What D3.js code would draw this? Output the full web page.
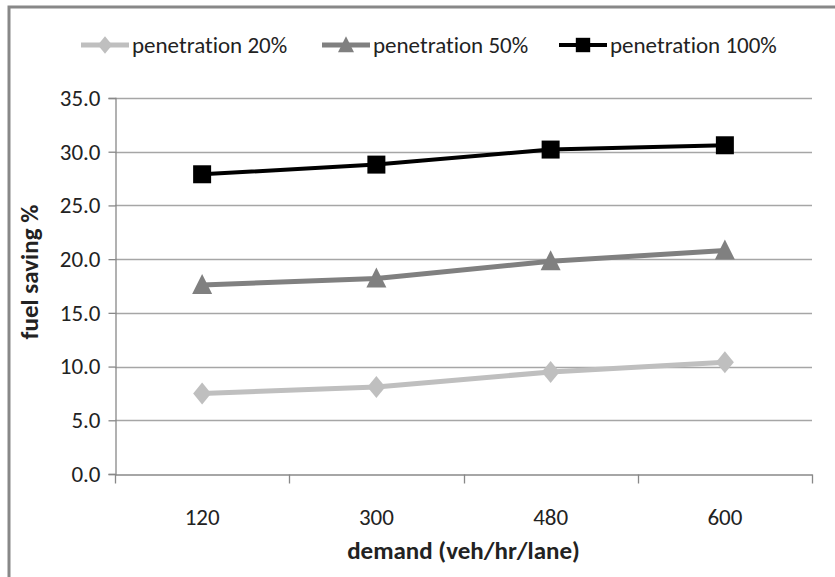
<!DOCTYPE html>
<html>
<head>
<meta charset="utf-8">
<script src="https://cdn.jsdelivr.net/npm/d3@7"></script>
<style>
  body { margin: 0; background: #fff; }
  text { font-family: Carlito, Lato, sans-serif; font-variant-ligatures: none; }
</style>
</head>
<body>
<div id="chart"></div>
<script>
const demand = ["120", "300", "480", "600"];
const seriesNames = ["penetration 20%", "penetration 50%", "penetration 100%"];
const pen20 = [7.5, 8.1, 9.5, 10.4];
const pen50 = [17.6, 18.2, 19.8, 20.8];
const pen100 = [27.9, 28.8, 30.2, 30.6];
const yTicks = [0, 5, 10, 15, 20, 25, 30, 35];

const series = [
  { name: seriesNames[0], values: pen20, color: "#bfbfbf", width: 5, shape: "diamond" },
  { name: seriesNames[1], values: pen50, color: "#808080", width: 5, shape: "triangle" },
  { name: seriesNames[2], values: pen100, color: "#000000", width: 4, shape: "square" }
];

const svg = d3.select("#chart").append("svg").attr("width", 835).attr("height", 577);
svg.append("rect").attr("width", 835).attr("height", 577).attr("fill", "#fff");
// outer frame (only top and left visible)
svg.append("path").attr("d", "M9,577V7H835").attr("fill", "none")
  .attr("stroke", "#888").attr("stroke-width", 3);

const margins = { left: 115, right: 23, top: 98, bottom: 103 };
const x = d3.scaleBand().domain(demand).range([margins.left, 835 - margins.right]);
const y = d3.scaleLinear().domain([0, 35]).range([577 - margins.bottom, margins.top]);

function markerPath(shape) {
  if (shape == "diamond") return "M0,-11L9,0L0,11L-9,0Z";
  if (shape == "triangle") return "M0,-11L10,9L-10,9Z";
  return "M-9,-9H9V9H-9Z";
}

// gridlines
svg.append("g").selectAll("line").data(yTicks.slice(1)).join("line")
  .attr("x1", margins.left).attr("x2", 835 - margins.right)
  .attr("y1", d => Math.round(y(d)) + 0.5).attr("y2", d => Math.round(y(d)) + 0.5)
  .attr("stroke", "#a6a6a6").attr("stroke-width", 1.3);

// y axis
const yAxis = svg.append("g").attr("transform", `translate(${margins.left + 0.5},0)`)
  .call(d3.axisLeft(y).tickValues(yTicks).tickFormat(d3.format(".1f")).tickSize(7).tickPadding(8));
yAxis.select(".domain").attr("stroke", "#888").attr("stroke-width", 1.3);
yAxis.selectAll(".tick line").attr("stroke", "#888").attr("stroke-width", 1.3);
yAxis.selectAll("text").attr("font-size", 23).attr("fill", "#222");

// x axis
const xAxis = svg.append("g").attr("transform", `translate(0,${Math.round(y(0)) + 0.5})`)
  .call(d3.axisBottom(x).tickSize(0).tickPadding(34));
xAxis.select(".domain").attr("stroke", "#888").attr("stroke-width", 1.3);
xAxis.selectAll("text").attr("font-size", 23).attr("fill", "#222");
const bounds = [margins.left].concat(demand.map(d => x(d) + x.bandwidth()));
xAxis.selectAll(".bnd").data(bounds).join("line")
  .attr("x1", d => Math.round(d) + 0.5).attr("x2", d => Math.round(d) + 0.5)
  .attr("y1", 0).attr("y2", 9).attr("stroke", "#888").attr("stroke-width", 1.3);

// lines and markers
const line = d3.line().x((d, i) => x(demand[i]) + x.bandwidth() / 2).y(d => y(d));
series.forEach(s => {
  svg.append("path").datum(s.values).attr("d", line).attr("fill", "none")
    .attr("stroke", s.color).attr("stroke-width", s.width).attr("stroke-linejoin", "round");
  svg.append("g").selectAll("path").data(s.values).join("path")
    .attr("transform", (d, i) => `translate(${x(demand[i]) + x.bandwidth() / 2},${y(d)})`)
    .attr("d", markerPath(s.shape)).attr("fill", s.color);
});

// legend
const legendX = [81, 322, 559];
const legend = svg.append("g").attr("transform", "translate(0,45)");
series.forEach((s, i) => {
  const g = legend.append("g").attr("transform", `translate(${legendX[i]},0)`);
  g.append("line").attr("x1", 0).attr("x2", 48).attr("stroke", s.color).attr("stroke-width", s.width);
  g.append("path").attr("transform", "translate(24,0) scale(0.8)").attr("d", markerPath(s.shape)).attr("fill", s.color);
  g.append("text").attr("x", 51).attr("dy", "0.35em").attr("font-size", 23).attr("fill", "#222").text(s.name);
});

// axis titles
svg.append("text").attr("x", (margins.left + 835 - margins.right) / 2).attr("y", 559)
  .attr("text-anchor", "middle").attr("font-size", 25).attr("font-weight", "bold").attr("fill", "#222")
  .text("demand (veh/hr/lane)");
svg.append("text").attr("transform", "translate(38,272) rotate(-90)")
  .attr("text-anchor", "middle").attr("font-size", 25).attr("font-weight", "bold").attr("fill", "#222")
  .text("fuel saving %");
</script>
</body>
</html>
